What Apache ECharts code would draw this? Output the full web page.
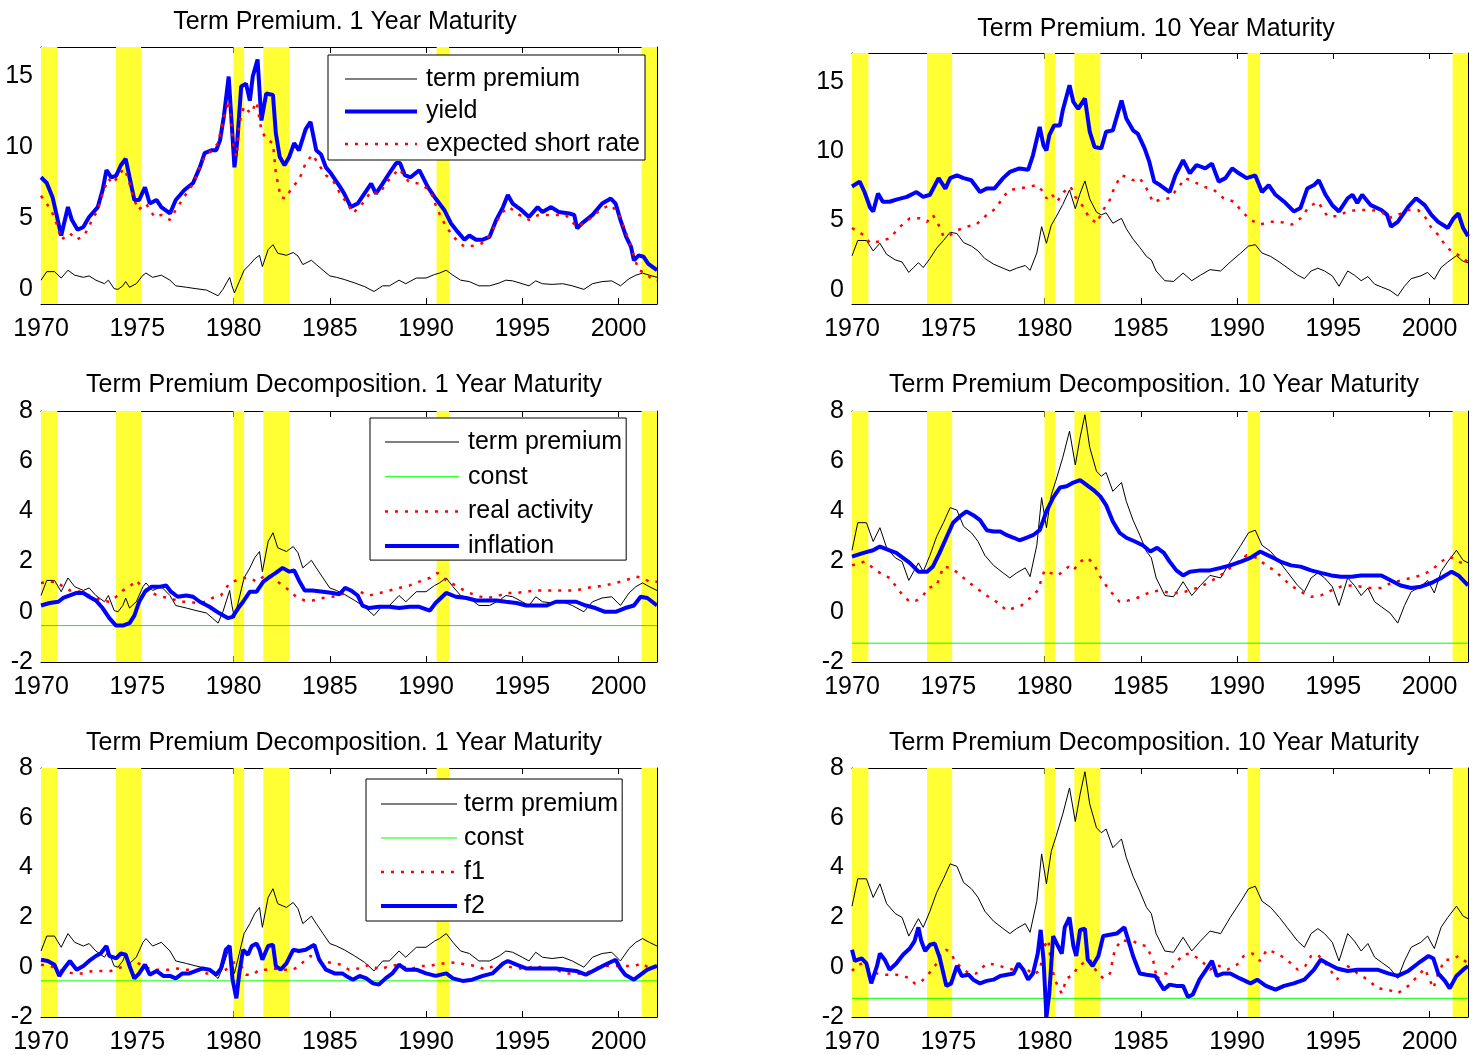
<!DOCTYPE html>
<html>
<head>
<meta charset="utf-8">
<script src="https://cdn.jsdelivr.net/npm/echarts@6/dist/echarts.min.js"></script>
<style>
html, body { margin: 0; padding: 0; background: #ffffff; }
#chart { width: 1479px; height: 1055px; }
</style>
</head>
<body>
<div id="chart"></div>
<script>
// NBER recession periods shaded in every panel (start, end in decimal years)
const recessions = [[1970.0, 1970.85], [1973.9, 1975.2], [1980.0, 1980.55], [1981.55, 1982.9], [1990.55, 1991.2], [2001.2, 2002.0]];
const yearTicks = [1970, 1975, 1980, 1985, 1990, 1995, 2000];
const levelTicks = [0, 5, 10, 15];
const decompTicks = [-2, 0, 2, 4, 6, 8];

// ---- 1 year maturity ----
const termPremium1 = [[1970.0,0.65],[1970.3,1.25],[1970.7,1.25],[1971.05,0.8],[1971.4,1.35],[1971.75,1.0],[1972.2,0.85],[1972.5,0.95],[1972.85,0.65],[1973.3,0.4],[1973.5,0.65],[1973.8,0.05],[1974.0,0.0],[1974.25,0.25],[1974.4,0.55],[1974.6,0.15],[1974.95,0.4],[1975.3,1.0],[1975.45,1.15],[1975.8,0.85],[1976.25,1.0],[1976.7,0.65],[1977.0,0.25],[1977.55,0.15],[1978.05,0.05],[1978.6,-0.05],[1978.9,-0.25],[1979.2,-0.45],[1979.45,0.0],[1979.8,0.85],[1979.92,0.25],[1980.05,-0.25],[1980.3,0.55],[1980.55,1.35],[1980.85,1.75],[1981.1,2.15],[1981.35,2.4],[1981.5,1.6],[1981.8,2.8],[1982.05,3.15],[1982.3,2.55],[1982.75,2.4],[1983.1,2.6],[1983.35,2.35],[1983.6,1.75],[1984.05,2.05],[1984.3,1.75],[1984.65,1.35],[1985.0,0.95],[1985.35,0.85],[1985.75,0.7],[1986.3,0.45],[1986.8,0.2],[1987.3,-0.15],[1987.75,0.25],[1988.1,0.25],[1988.6,0.65],[1988.95,0.4],[1989.5,0.8],[1990.0,0.8],[1990.45,1.05],[1990.7,1.15],[1991.05,1.35],[1991.4,1.0],[1991.8,0.65],[1992.25,0.55],[1992.75,0.25],[1993.3,0.25],[1993.8,0.45],[1994.15,0.65],[1994.5,0.6],[1995.0,0.4],[1995.35,0.25],[1995.7,0.6],[1996.05,0.4],[1996.55,0.35],[1997.1,0.4],[1997.6,0.25],[1998.2,0.0],[1998.65,0.4],[1999.15,0.55],[1999.65,0.6],[2000.1,0.25],[2000.55,0.75],[2000.9,1.0],[2001.25,1.15],[2001.6,1.0],[2002.0,0.85]];
const yield1 = [[1970.0,7.9],[1970.3,7.5],[1970.6,6.5],[1970.85,5.0],[1971.05,3.8],[1971.4,5.8],[1971.6,4.9],[1971.9,4.2],[1972.2,4.4],[1972.5,5.1],[1972.95,5.8],[1973.2,7.0],[1973.4,8.4],[1973.65,7.9],[1973.9,8.0],[1974.15,8.75],[1974.4,9.2],[1974.6,7.9],[1974.85,6.3],[1975.1,6.3],[1975.4,7.2],[1975.65,6.05],[1976.0,6.3],[1976.25,5.8],[1976.7,5.35],[1977.0,6.3],[1977.45,7.0],[1977.9,7.5],[1978.25,8.6],[1978.5,9.6],[1978.85,9.8],[1979.1,9.8],[1979.3,10.5],[1979.5,12.2],[1979.75,15.0],[1979.85,12.9],[1980.05,8.6],[1980.2,10.5],[1980.4,14.3],[1980.65,14.5],[1980.85,13.3],[1981.0,15.0],[1981.25,16.2],[1981.45,11.9],[1981.7,13.8],[1982.05,13.7],[1982.2,11.0],[1982.4,9.35],[1982.65,8.75],[1982.9,9.35],[1983.15,10.3],[1983.4,9.8],[1983.75,11.3],[1984.0,11.8],[1984.3,9.8],[1984.55,9.5],[1984.8,8.6],[1985.05,8.2],[1985.5,7.3],[1985.75,6.75],[1986.1,5.8],[1986.45,6.05],[1986.8,6.75],[1987.15,7.45],[1987.4,6.75],[1987.75,7.45],[1988.1,8.2],[1988.45,8.9],[1988.65,8.9],[1988.9,8.05],[1989.2,7.9],[1989.65,8.4],[1990.1,7.2],[1990.5,6.4],[1990.95,5.6],[1991.3,4.65],[1991.65,4.05],[1992.0,3.5],[1992.25,3.8],[1992.6,3.5],[1992.95,3.5],[1993.3,3.7],[1993.65,4.9],[1994.0,5.8],[1994.25,6.65],[1994.5,6.05],[1994.95,5.6],[1995.35,5.1],[1995.8,5.8],[1996.05,5.45],[1996.5,5.8],[1996.9,5.45],[1997.45,5.35],[1997.7,5.25],[1997.85,4.3],[1998.1,4.65],[1998.65,5.25],[1999.15,6.05],[1999.6,6.4],[1999.85,6.05],[2000.1,4.9],[2000.4,3.7],[2000.65,3.0],[2000.8,2.05],[2001.05,2.4],[2001.3,2.3],[2001.55,1.8],[2002.0,1.35]];
const expectedShort1 = [[1970.0,6.6],[1970.3,6.05],[1970.6,5.35],[1970.8,4.65],[1971.05,3.5],[1971.5,3.95],[1971.85,3.5],[1972.25,3.8],[1972.7,5.0],[1972.95,5.6],[1973.2,6.75],[1973.5,7.8],[1973.75,7.45],[1974.1,8.2],[1974.35,8.5],[1974.6,7.45],[1974.8,6.5],[1975.05,5.6],[1975.45,6.05],[1975.9,5.1],[1976.25,5.25],[1976.7,4.9],[1977.0,5.6],[1977.55,6.75],[1977.9,7.45],[1978.4,9.1],[1978.85,9.8],[1979.2,10.3],[1979.45,11.9],[1979.75,13.3],[1979.9,11.45],[1980.0,10.05],[1980.15,9.35],[1980.3,11.7],[1980.55,12.9],[1980.75,12.6],[1980.9,12.4],[1981.2,13.2],[1981.45,11.2],[1981.7,10.6],[1982.05,10.3],[1982.2,8.2],[1982.45,6.5],[1982.7,6.4],[1983.05,7.2],[1983.4,7.7],[1983.75,8.9],[1984.1,9.5],[1984.45,8.75],[1984.8,8.05],[1985.15,7.7],[1985.6,6.6],[1985.95,6.0],[1986.2,5.35],[1986.7,6.05],[1987.15,6.9],[1987.6,6.75],[1987.9,7.45],[1988.6,8.5],[1989.1,7.6],[1989.65,7.45],[1990.2,7.0],[1990.6,5.6],[1991.05,4.4],[1991.5,3.6],[1992.0,3.0],[1992.6,3.1],[1993.1,3.35],[1993.45,4.2],[1993.9,5.35],[1994.3,5.8],[1994.85,5.25],[1995.35,4.9],[1995.85,5.25],[1996.55,5.25],[1997.25,5.25],[1997.85,4.4],[1998.45,4.9],[1999.15,5.7],[1999.6,5.95],[2000.0,5.35],[2000.4,3.95],[2000.75,2.55],[2001.05,1.35],[2001.4,1.15],[2001.8,0.65],[2002.0,0.6]];
const const1 = -0.55;
const realActivity1 = [[1970.0,1.15],[1970.45,1.2],[1970.8,1.2],[1971.15,1.0],[1971.5,0.85],[1971.85,0.85],[1972.2,0.75],[1972.5,0.65],[1972.85,0.55],[1973.1,0.45],[1973.55,0.4],[1974.0,0.65],[1974.25,0.85],[1974.6,1.0],[1974.95,1.25],[1975.3,0.95],[1975.75,0.75],[1976.25,0.6],[1976.7,0.55],[1977.2,0.4],[1977.7,0.4],[1978.05,0.35],[1978.6,0.4],[1978.9,0.55],[1979.35,0.65],[1979.8,1.15],[1980.15,1.25],[1980.5,1.35],[1980.85,1.35],[1981.2,1.2],[1981.55,1.4],[1981.9,1.45],[1982.2,1.25],[1982.55,1.05],[1982.9,0.85],[1983.25,0.6],[1983.7,0.45],[1984.1,0.45],[1984.65,0.55],[1985.15,0.6],[1985.6,0.7],[1986.0,0.8],[1986.55,0.8],[1987.05,0.65],[1987.6,0.75],[1988.1,0.85],[1988.6,0.95],[1989.15,1.05],[1989.65,1.2],[1990.2,1.35],[1990.6,1.55],[1991.05,1.25],[1991.55,1.05],[1992.1,0.8],[1992.6,0.65],[1993.1,0.55],[1993.65,0.6],[1994.15,0.75],[1994.7,0.75],[1995.2,0.8],[1995.7,0.85],[1996.25,0.85],[1996.75,0.85],[1997.25,0.85],[1997.8,0.85],[1998.3,0.95],[1998.8,1.0],[1999.3,1.05],[1999.85,1.15],[2000.35,1.25],[2000.9,1.4],[2001.25,1.35],[2001.6,1.2],[2002.0,1.2]];
const inflation1 = [[1970.0,0.25],[1970.45,0.35],[1970.9,0.4],[1971.15,0.55],[1971.5,0.65],[1971.85,0.75],[1972.2,0.75],[1972.5,0.6],[1972.85,0.45],[1973.2,0.15],[1973.55,-0.25],[1973.9,-0.55],[1974.25,-0.55],[1974.6,-0.45],[1974.85,-0.15],[1975.1,0.4],[1975.4,0.8],[1975.75,1.0],[1976.2,1.0],[1976.5,1.05],[1976.75,0.8],[1977.1,0.6],[1977.55,0.65],[1977.9,0.6],[1978.25,0.4],[1978.75,0.2],[1979.25,-0.05],[1979.7,-0.25],[1979.95,-0.2],[1980.25,0.15],[1980.5,0.4],[1980.85,0.8],[1981.2,0.8],[1981.55,1.2],[1981.9,1.4],[1982.2,1.55],[1982.55,1.75],[1982.9,1.6],[1983.15,1.65],[1983.4,1.25],[1983.7,0.85],[1984.1,0.85],[1984.65,0.8],[1985.15,0.75],[1985.5,0.7],[1985.8,0.95],[1986.1,0.85],[1986.45,0.65],[1986.7,0.25],[1987.05,0.15],[1987.55,0.2],[1988.1,0.2],[1988.6,0.15],[1989.15,0.2],[1989.65,0.2],[1990.2,0.05],[1990.5,0.35],[1991.05,0.75],[1991.55,0.6],[1992.1,0.55],[1992.6,0.45],[1993.1,0.45],[1993.65,0.45],[1994.15,0.4],[1994.7,0.35],[1995.2,0.25],[1995.7,0.25],[1996.25,0.25],[1996.75,0.4],[1997.25,0.4],[1997.8,0.4],[1998.3,0.25],[1998.8,0.15],[1999.3,0.0],[1999.85,0.0],[2000.35,0.15],[2000.8,0.25],[2001.15,0.6],[2001.5,0.55],[2002.0,0.25]];
const factor1_1 = [[1970.0,0.1],[1970.45,0.05],[1970.8,-0.05],[1971.15,-0.15],[1971.65,-0.25],[1972.2,-0.25],[1972.7,-0.15],[1973.2,-0.15],[1973.65,-0.15],[1974.0,-0.05],[1974.35,0.05],[1974.7,0.15],[1974.95,0.2],[1975.3,0.05],[1975.75,-0.1],[1976.15,-0.1],[1976.7,-0.1],[1977.1,-0.05],[1977.55,-0.1],[1978.05,-0.1],[1978.6,-0.25],[1979.1,-0.25],[1979.6,-0.1],[1980.05,0.2],[1980.4,0.05],[1980.65,-0.3],[1981.0,-0.3],[1981.35,-0.1],[1981.7,-0.1],[1982.05,-0.05],[1982.55,-0.1],[1983.1,-0.1],[1983.4,0.05],[1983.75,0.3],[1984.0,0.45],[1984.45,0.3],[1984.9,0.2],[1985.25,0.15],[1985.6,0.1],[1986.0,-0.1],[1986.55,-0.05],[1987.05,0.1],[1987.6,-0.1],[1988.1,0.05],[1988.6,0.1],[1989.15,-0.1],[1989.65,0.05],[1990.2,0.05],[1990.7,0.15],[1991.05,0.15],[1991.55,0.2],[1992.1,0.1],[1992.6,0.05],[1993.1,-0.1],[1993.65,0.1],[1994.15,0.05],[1994.7,-0.05],[1995.2,-0.05],[1995.7,0.05],[1996.25,-0.05],[1996.75,-0.1],[1997.25,-0.25],[1997.8,-0.25],[1998.3,-0.25],[1998.8,-0.05],[1999.3,0.05],[1999.85,0.05],[2000.35,0.05],[2000.8,0.05],[2001.25,0.15],[2001.6,-0.05],[2002.0,0.05]];
const factor2_1 = [[1970.0,0.3],[1970.35,0.25],[1970.7,0.1],[1970.95,-0.35],[1971.2,-0.05],[1971.5,0.25],[1971.85,-0.1],[1972.2,0.05],[1972.5,0.25],[1972.85,0.45],[1973.1,0.55],[1973.4,0.85],[1973.55,0.45],[1973.9,0.35],[1974.15,0.55],[1974.4,0.5],[1974.6,0.05],[1974.85,-0.45],[1975.1,-0.25],[1975.4,0.1],[1975.65,-0.3],[1976.0,-0.15],[1976.35,-0.35],[1976.7,-0.35],[1977.0,-0.45],[1977.35,-0.25],[1977.7,-0.25],[1978.05,-0.15],[1978.4,-0.05],[1978.75,-0.1],[1979.1,-0.3],[1979.35,-0.05],[1979.6,0.7],[1979.8,0.85],[1979.95,-0.5],[1980.15,-1.25],[1980.3,-0.25],[1980.5,0.7],[1980.75,0.5],[1980.95,0.85],[1981.2,0.95],[1981.35,0.7],[1981.5,0.3],[1981.8,0.85],[1982.05,0.9],[1982.2,0.05],[1982.45,-0.1],[1982.75,0.15],[1983.1,0.7],[1983.4,0.65],[1983.75,0.7],[1984.2,0.9],[1984.45,0.3],[1984.8,-0.1],[1985.25,-0.25],[1985.65,-0.25],[1985.85,-0.35],[1986.2,-0.5],[1986.55,-0.35],[1986.9,-0.45],[1987.25,-0.65],[1987.55,-0.7],[1987.9,-0.45],[1988.25,-0.25],[1988.6,0.1],[1988.95,-0.1],[1989.5,-0.1],[1990.0,-0.25],[1990.5,-0.35],[1991.05,-0.25],[1991.4,-0.45],[1991.9,-0.55],[1992.4,-0.5],[1992.95,-0.35],[1993.45,-0.25],[1994.0,0.15],[1994.25,0.25],[1994.7,0.1],[1995.2,-0.05],[1995.7,-0.05],[1996.25,-0.05],[1996.75,-0.05],[1997.25,-0.1],[1997.8,-0.15],[1998.3,-0.3],[1998.8,-0.1],[1999.3,0.1],[1999.85,0.3],[2000.1,-0.05],[2000.35,-0.3],[2000.8,-0.5],[2001.15,-0.3],[2001.5,-0.1],[2002.0,0.05]];

// ---- 10 year maturity ----
const termPremium10 = [[1970.0,2.45],[1970.3,3.55],[1970.75,3.55],[1971.1,2.8],[1971.45,3.35],[1971.8,2.55],[1972.25,2.15],[1972.6,2.0],[1972.95,1.25],[1973.2,1.6],[1973.45,1.95],[1973.7,1.6],[1974.05,2.25],[1974.4,3.0],[1974.75,3.55],[1975.1,4.15],[1975.45,4.05],[1975.8,3.4],[1976.2,3.15],[1976.55,2.8],[1976.9,2.25],[1977.35,1.85],[1977.85,1.55],[1978.2,1.35],[1978.55,1.55],[1979.0,1.75],[1979.25,1.4],[1979.6,2.65],[1979.85,4.55],[1980.1,3.35],[1980.35,4.65],[1980.6,5.25],[1980.95,6.15],[1981.3,7.2],[1981.6,5.85],[1981.85,6.95],[1982.1,7.85],[1982.35,6.55],[1982.7,5.6],[1982.95,5.4],[1983.2,5.55],[1983.55,4.8],[1984.0,5.15],[1984.25,4.4],[1984.6,3.65],[1984.95,3.05],[1985.3,2.4],[1985.55,2.15],[1985.8,1.35],[1986.25,0.65],[1986.7,0.6],[1987.2,1.2],[1987.65,0.65],[1988.1,1.05],[1988.6,1.45],[1989.15,1.35],[1989.65,2.0],[1990.2,2.65],[1990.6,3.15],[1990.95,3.25],[1991.3,2.65],[1991.75,2.4],[1992.2,2.0],[1992.6,1.6],[1993.15,1.05],[1993.5,0.8],[1993.85,1.35],[1994.2,1.55],[1994.55,1.35],[1994.95,1.0],[1995.3,0.25],[1995.75,1.35],[1996.1,1.05],[1996.45,0.65],[1996.8,0.95],[1997.15,0.4],[1997.5,0.2],[1997.95,-0.05],[1998.35,-0.45],[1998.7,0.25],[1999.05,0.8],[1999.55,1.0],[1999.9,1.25],[2000.25,0.75],[2000.6,1.6],[2000.95,2.0],[2001.4,2.45],[2001.75,2.05],[2002.0,1.95]];
const yield10 = [[1970.0,7.45],[1970.4,7.8],[1970.65,7.05],[1970.95,5.9],[1971.1,5.65],[1971.35,6.95],[1971.6,6.35],[1971.95,6.35],[1972.3,6.5],[1972.85,6.7],[1973.35,7.05],[1973.7,6.7],[1974.05,6.85],[1974.5,8.05],[1974.85,7.3],[1975.1,8.05],[1975.45,8.25],[1975.8,8.05],[1976.2,7.9],[1976.65,7.05],[1977.0,7.3],[1977.4,7.3],[1977.85,8.05],[1978.2,8.5],[1978.7,8.75],[1979.15,8.65],[1979.4,9.7],[1979.75,11.75],[1979.95,10.4],[1980.1,10.05],[1980.25,11.15],[1980.5,11.85],[1980.8,11.85],[1980.95,12.95],[1981.3,14.75],[1981.5,13.55],[1981.75,13.05],[1982.1,13.8],[1982.35,11.4],[1982.6,10.3],[1982.95,10.2],[1983.2,11.4],[1983.55,11.5],[1984.0,13.65],[1984.25,12.35],[1984.6,11.5],[1984.85,11.25],[1985.2,10.2],[1985.45,9.2],[1985.7,7.8],[1986.0,7.55],[1986.5,7.05],[1986.8,8.25],[1987.2,9.35],[1987.55,8.4],[1987.9,9.0],[1988.35,8.75],[1988.7,9.1],[1989.05,7.8],[1989.4,8.05],[1989.75,8.75],[1990.1,8.4],[1990.5,8.05],[1990.95,8.25],[1991.3,7.05],[1991.65,7.55],[1992.0,6.85],[1992.45,6.35],[1992.95,5.65],[1993.3,5.9],[1993.65,7.3],[1994.0,7.55],[1994.25,7.9],[1994.6,6.85],[1994.95,6.1],[1995.3,5.65],[1995.75,6.6],[1996.0,6.85],[1996.25,6.25],[1996.5,6.85],[1996.95,6.1],[1997.5,5.75],[1997.8,5.4],[1998.0,4.55],[1998.35,4.9],[1998.9,6.0],[1999.3,6.6],[1999.75,6.1],[2000.1,5.4],[2000.45,4.9],[2000.95,4.45],[2001.25,5.15],[2001.5,5.5],[2001.75,4.45],[2002.0,3.85]];
const expectedShort10 = [[1970.0,4.45],[1970.6,3.95],[1970.95,3.35],[1971.45,3.5],[1971.95,3.7],[1972.5,4.55],[1973.0,5.15],[1973.5,5.15],[1973.9,4.9],[1974.2,5.4],[1974.55,4.55],[1974.75,3.85],[1975.1,3.95],[1975.5,4.3],[1975.95,4.55],[1976.45,4.7],[1977.0,5.4],[1977.5,5.9],[1977.85,6.7],[1978.2,7.2],[1978.7,7.3],[1979.25,7.45],[1979.6,7.55],[1979.95,7.05],[1980.1,6.6],[1980.35,6.95],[1980.65,6.35],[1981.0,7.05],[1981.35,7.45],[1981.6,6.7],[1981.95,6.1],[1982.3,5.25],[1982.7,4.8],[1983.05,5.75],[1983.4,6.5],[1983.65,7.45],[1984.0,8.25],[1984.25,8.15],[1984.6,7.9],[1984.95,8.05],[1985.3,7.3],[1985.65,6.3],[1986.0,6.5],[1986.5,6.6],[1987.05,7.55],[1987.3,8.05],[1987.75,7.8],[1988.25,7.45],[1988.8,7.2],[1989.3,6.6],[1989.85,6.35],[1990.25,5.65],[1990.7,5.05],[1991.2,4.7],[1991.75,4.9],[1992.25,4.9],[1992.85,4.7],[1993.3,5.15],[1993.75,6.0],[1994.2,6.35],[1994.7,5.3],[1995.2,5.3],[1995.75,5.65],[1996.25,5.75],[1996.95,5.75],[1997.5,5.65],[1997.85,5.15],[1998.35,5.4],[1998.9,5.75],[1999.4,5.75],[1999.75,5.3],[2000.1,4.45],[2000.45,3.95],[2000.8,3.25],[2001.15,2.75],[2001.5,2.5],[2002.0,2.0]];
const const10 = -1.25;
const realActivity10 = [[1970.0,1.85],[1970.65,2.0],[1971.1,1.75],[1971.45,1.55],[1971.95,1.35],[1972.3,1.0],[1972.65,0.65],[1973.0,0.4],[1973.35,0.45],[1973.7,0.65],[1973.95,0.95],[1974.4,1.05],[1974.75,1.8],[1975.1,1.75],[1975.5,1.55],[1975.95,1.25],[1976.45,0.95],[1977.0,0.65],[1977.5,0.4],[1978.05,0.05],[1978.4,0.15],[1978.8,0.25],[1979.25,0.55],[1979.65,0.85],[1980.0,1.65],[1980.3,1.55],[1980.7,1.45],[1981.25,1.8],[1981.5,1.65],[1981.85,2.0],[1982.25,2.15],[1982.6,1.85],[1982.85,1.45],[1983.1,1.15],[1983.5,0.75],[1983.9,0.4],[1984.35,0.45],[1984.8,0.55],[1985.1,0.65],[1985.55,0.8],[1986.0,0.85],[1986.5,0.75],[1987.05,0.75],[1987.55,0.85],[1988.1,1.0],[1988.6,1.2],[1989.15,1.45],[1989.65,1.75],[1990.15,2.05],[1990.5,2.25],[1991.05,2.15],[1991.5,1.85],[1991.95,1.65],[1992.35,1.35],[1992.8,1.05],[1993.3,0.8],[1993.85,0.6],[1994.35,0.65],[1994.9,0.85],[1995.4,1.0],[1995.95,1.05],[1996.45,1.0],[1996.95,0.95],[1997.5,0.95],[1998.0,1.15],[1998.5,1.25],[1999.05,1.35],[1999.55,1.45],[2000.1,1.65],[2000.6,2.0],[2001.05,2.2],[2001.5,2.0],[2002.0,1.85]];
const inflation10 = [[1970.0,2.2],[1970.6,2.35],[1971.1,2.45],[1971.45,2.6],[1971.95,2.45],[1972.3,2.35],[1972.65,2.15],[1973.0,1.95],[1973.45,1.6],[1973.9,1.6],[1974.2,1.8],[1974.55,2.35],[1974.9,2.95],[1975.25,3.55],[1975.6,3.8],[1975.95,4.0],[1976.3,3.85],[1976.65,3.65],[1977.0,3.25],[1977.35,3.2],[1977.7,3.2],[1978.05,3.05],[1978.4,2.95],[1978.7,2.85],[1979.05,2.95],[1979.4,3.05],[1979.75,3.25],[1980.1,4.0],[1980.45,4.55],[1980.8,4.95],[1981.15,5.0],[1981.5,5.15],[1981.85,5.25],[1982.2,5.05],[1982.55,4.85],[1982.9,4.6],[1983.2,4.25],[1983.55,3.6],[1983.9,3.15],[1984.25,2.95],[1984.7,2.8],[1985.1,2.65],[1985.5,2.4],[1985.85,2.55],[1986.2,2.35],[1986.5,2.0],[1986.85,1.65],[1987.2,1.45],[1987.55,1.6],[1988.1,1.65],[1988.6,1.65],[1989.15,1.75],[1989.65,1.85],[1990.2,2.0],[1990.7,2.15],[1991.2,2.4],[1991.75,2.2],[1992.25,2.0],[1992.8,1.85],[1993.3,1.8],[1993.85,1.65],[1994.35,1.55],[1994.9,1.45],[1995.4,1.4],[1995.95,1.4],[1996.45,1.45],[1996.95,1.45],[1997.5,1.45],[1998.0,1.25],[1998.5,1.05],[1999.05,0.95],[1999.55,1.0],[2000.1,1.15],[2000.6,1.35],[2001.15,1.6],[2001.5,1.45],[2002.0,1.05]];
const factor1_10 = [[1970.0,-0.15],[1970.3,0.1],[1970.6,0.15],[1970.95,-0.15],[1971.3,-0.25],[1971.6,-0.3],[1971.95,-0.3],[1972.3,-0.3],[1972.65,-0.35],[1973.0,-0.45],[1973.25,-0.65],[1973.5,-0.65],[1973.9,-0.35],[1974.15,-0.1],[1974.4,0.15],[1974.65,0.6],[1974.9,0.7],[1975.15,0.55],[1975.35,0.25],[1975.7,-0.05],[1976.1,-0.25],[1976.45,-0.25],[1977.0,0.15],[1977.5,0.1],[1978.05,-0.05],[1978.4,-0.1],[1978.7,0.05],[1979.05,-0.05],[1979.4,-0.3],[1979.75,-0.15],[1980.0,0.85],[1980.2,1.1],[1980.35,0.05],[1980.55,-0.5],[1980.7,-0.8],[1980.9,-1.05],[1981.15,-0.45],[1981.5,-0.3],[1981.75,0.05],[1982.1,0.2],[1982.25,0.55],[1982.5,0.05],[1982.8,-0.25],[1983.05,-0.45],[1983.4,-0.25],[1983.65,0.7],[1984.0,1.1],[1984.25,1.05],[1984.6,1.05],[1984.95,0.9],[1985.3,0.85],[1985.65,0.25],[1985.85,-0.5],[1986.05,-0.25],[1986.35,-0.25],[1986.8,0.15],[1987.2,0.5],[1987.55,0.55],[1988.1,0.3],[1988.6,-0.1],[1988.95,0.1],[1989.5,-0.1],[1990.0,0.1],[1990.35,0.45],[1990.8,0.55],[1991.2,0.25],[1991.55,0.7],[1992.1,0.55],[1992.6,0.3],[1993.15,-0.1],[1993.55,0.05],[1993.85,0.45],[1994.2,0.5],[1994.7,0.05],[1995.2,-0.5],[1995.6,0.1],[1995.95,-0.05],[1996.25,-0.25],[1996.8,-0.5],[1997.3,-0.85],[1997.85,-0.9],[1998.35,-1.05],[1998.9,-0.75],[1999.4,-0.35],[1999.75,-0.05],[2000.2,-0.85],[2000.45,-0.25],[2000.8,0.3],[2001.15,0.3],[2001.5,0.45],[2002.0,0.15]];
const factor2_10 = [[1970.0,0.7],[1970.15,0.25],[1970.5,0.35],[1970.75,0.15],[1971.0,-0.65],[1971.3,0.05],[1971.45,0.55],[1971.7,0.3],[1971.95,-0.1],[1972.3,0.15],[1972.65,0.5],[1973.0,0.75],[1973.25,1.05],[1973.45,1.6],[1973.6,1.05],[1973.8,0.65],[1974.05,0.9],[1974.3,0.95],[1974.55,0.4],[1974.75,-0.25],[1974.9,-0.75],[1975.15,-0.65],[1975.45,0.05],[1975.7,-0.35],[1976.05,-0.3],[1976.3,-0.5],[1976.65,-0.65],[1977.0,-0.55],[1977.35,-0.5],[1977.7,-0.35],[1978.05,-0.3],[1978.4,-0.25],[1978.65,0.15],[1978.9,-0.1],[1979.15,-0.5],[1979.4,-0.25],[1979.65,0.55],[1979.8,1.5],[1979.95,0.3],[1980.1,-2.0],[1980.25,-1.05],[1980.45,1.25],[1980.7,0.85],[1980.9,0.55],[1981.05,1.6],[1981.3,2.0],[1981.5,0.85],[1981.65,0.45],[1981.85,1.5],[1982.1,1.55],[1982.25,0.3],[1982.5,0.05],[1982.8,0.45],[1983.05,1.25],[1983.4,1.3],[1983.75,1.35],[1984.15,1.6],[1984.35,1.1],[1984.6,0.45],[1984.95,-0.25],[1985.3,-0.3],[1985.75,-0.35],[1986.2,-0.9],[1986.5,-0.7],[1986.85,-0.75],[1987.2,-0.75],[1987.45,-1.2],[1987.7,-1.1],[1988.05,-0.5],[1988.4,-0.1],[1988.7,0.25],[1988.95,-0.35],[1989.3,-0.25],[1989.65,-0.25],[1990.15,-0.45],[1990.7,-0.65],[1991.05,-0.5],[1991.5,-0.75],[1992.0,-0.9],[1992.45,-0.75],[1992.95,-0.65],[1993.5,-0.5],[1994.0,-0.1],[1994.35,0.3],[1994.7,0.15],[1995.2,-0.05],[1995.75,-0.15],[1996.25,-0.1],[1996.8,-0.1],[1997.3,-0.1],[1997.85,-0.25],[1998.35,-0.35],[1998.9,-0.15],[1999.4,0.15],[1999.95,0.45],[2000.2,0.35],[2000.45,-0.25],[2000.8,-0.55],[2001.05,-0.85],[2001.4,-0.35],[2001.75,-0.1],[2002.0,0.05]];

// ---- drawing ----
const FONT = 'Liberation Sans, Arial, Helvetica, sans-serif';
const styles = {
  black: { color: '#000000', width: 1, type: 'solid' },
  blue:  { color: '#0000ff', width: 4, type: 'solid' },
  red:   { color: '#ff0000', width: 2.5, type: [3, 7] },
  green: { color: '#00ff00', width: 1, type: 'solid' }
};
const flat = (v) => [[1970, v], [2002, v]];

const panels = [
  { title: 'Term Premium. 1 Year Maturity', tx: 345, ty: 10,
    grid: { left: 41, top: 47, width: 616, height: 257 }, yr: [-1.03, 17.08], yt: levelTicks,
    lines: [['term premium', termPremium1, 'black'], ['yield', yield1, 'blue'], ['expected short rate', expectedShort1, 'red']],
    legend: { left: 328, top: 55, padding: [11, 5, 3, 15], itemWidth: 72, itemGap: 6.5, textPad: 4 } },
  { title: 'Term Premium. 10 Year Maturity', tx: 1156, ty: 17,
    grid: { left: 852, top: 53, width: 616, height: 251 }, yr: [-1.03, 17.08], yt: levelTicks,
    lines: [['term premium', termPremium10, 'black'], ['yield', yield10, 'blue'], ['expected short rate', expectedShort10, 'red']] },
  { title: 'Term Premium Decomposition. 1 Year Maturity', tx: 344, ty: 373,
    grid: { left: 41, top: 411, width: 616, height: 251 }, yr: [-2, 8], yt: decompTicks,
    lines: [['term premium', termPremium1, 'black'], ['const', flat(const1), 'green'], ['real activity', realActivity1, 'red'], ['inflation', inflation1, 'blue']],
    legend: { left: 370, top: 418, padding: [11, 4, 1, 13], itemWidth: 74, itemGap: 8.7, textPad: 4 } },
  { title: 'Term Premium Decomposition. 10 Year Maturity', tx: 1154, ty: 373,
    grid: { left: 852, top: 411, width: 616, height: 251 }, yr: [-2, 8], yt: decompTicks,
    lines: [['term premium', termPremium10, 'black'], ['const', flat(const10), 'green'], ['real activity', realActivity10, 'red'], ['inflation', inflation10, 'blue']] },
  { title: 'Term Premium Decomposition. 1 Year Maturity', tx: 344, ty: 731,
    grid: { left: 41, top: 768, width: 616, height: 252 }, yr: [-2, 8], yt: decompTicks,
    lines: [['term premium', termPremium1, 'black'], ['const', flat(const1), 'green'], ['f1', factor1_1, 'red'], ['f2', factor2_1, 'blue']],
    legend: { left: 366, top: 779, padding: [12, 4, 2, 13], itemWidth: 76, itemGap: 8, textPad: 2 } },
  { title: 'Term Premium Decomposition. 10 Year Maturity', tx: 1154, ty: 731,
    grid: { left: 852, top: 768, width: 616, height: 252 }, yr: [-2, 8], yt: decompTicks,
    lines: [['term premium', termPremium10, 'black'], ['const', flat(const10), 'green'], ['f1', factor1_10, 'red'], ['f2', factor2_10, 'blue']] }
];

const option = {
  backgroundColor: '#ffffff',
  animation: false,
  textStyle: { fontFamily: FONT },
  title: [], grid: [], xAxis: [], yAxis: [], series: [], legend: []
};

const axisLine = { show: true, onZero: false, lineStyle: { color: '#000000', width: 1 } };
const tickStyle = (vals) => ({ show: true, inside: true, length: 6, customValues: vals, lineStyle: { color: '#000000', width: 1 } });

panels.forEach((p, g) => {
  option.title.push({
    text: p.title, left: p.tx, top: p.ty, textAlign: 'center', padding: 0,
    textStyle: { fontFamily: FONT, fontSize: 25, fontWeight: 'normal', color: '#000000' }
  });
  option.grid.push(Object.assign({ containLabel: false }, p.grid));

  const xBase = { type: 'value', gridIndex: g, min: 1970, max: 2002, interval: 5, splitLine: { show: false }, axisLine };
  option.xAxis.push(Object.assign({}, xBase, {
    position: 'bottom', axisTick: tickStyle(yearTicks),
    axisLabel: { show: true, customValues: yearTicks, margin: 13, fontSize: 25, color: '#000000', fontFamily: FONT, formatter: (v) => String(v) }
  }));
  option.xAxis.push(Object.assign({}, xBase, {
    position: 'top', axisTick: tickStyle(yearTicks), axisLabel: { show: false }
  }));

  const yBase = { type: 'value', gridIndex: g, min: p.yr[0], max: p.yr[1], splitLine: { show: false }, axisLine };
  option.yAxis.push(Object.assign({}, yBase, {
    position: 'left', axisTick: tickStyle(p.yt),
    axisLabel: { show: true, customValues: p.yt, margin: 8, fontSize: 25, color: '#000000', fontFamily: FONT, padding: [9, 0, 0, 0] }
  }));
  option.yAxis.push(Object.assign({}, yBase, {
    position: 'right', axisTick: tickStyle(p.yt), axisLabel: { show: false }
  }));

  // recession shading beneath the lines
  option.series.push({
    type: 'line', name: 'recession', xAxisIndex: 2 * g, yAxisIndex: 2 * g, data: [], z: 1, silent: true,
    markArea: {
      silent: true,
      itemStyle: { color: '#ffff33', opacity: 1 },
      data: recessions.map(([a, b]) => [{ xAxis: a }, { xAxis: b }])
    }
  });

  p.lines.forEach(([name, data, sty], k) => {
    option.series.push({
      type: 'line', name, data, xAxisIndex: 2 * g, yAxisIndex: 2 * g,
      symbol: 'none', showSymbol: false, z: 2 + k, clip: true, silent: true,
      lineStyle: Object.assign({}, styles[sty]), itemStyle: { color: styles[sty].color }
    });
  });

  if (p.legend) {
    const L = p.legend;
    option.legend.push({
      orient: 'vertical', left: L.left, top: L.top, padding: L.padding,
      itemWidth: L.itemWidth, itemHeight: 14, itemGap: L.itemGap,
      backgroundColor: '#ffffff', borderColor: '#000000', borderWidth: 1, borderRadius: 0,
      selectedMode: false,
      itemStyle: { opacity: 0 },
      lineStyle: { width: 'inherit', type: 'inherit', color: 'inherit' },
      textStyle: { fontFamily: FONT, fontSize: 25, color: '#000000', lineHeight: 26, padding: [0, 0, 0, L.textPad] },
      data: p.lines.map((l) => l[0])
    });
  }
});

const chart = echarts.init(document.getElementById('chart'), null, { renderer: 'canvas' });
chart.setOption(option);
</script>
</body>
</html>
